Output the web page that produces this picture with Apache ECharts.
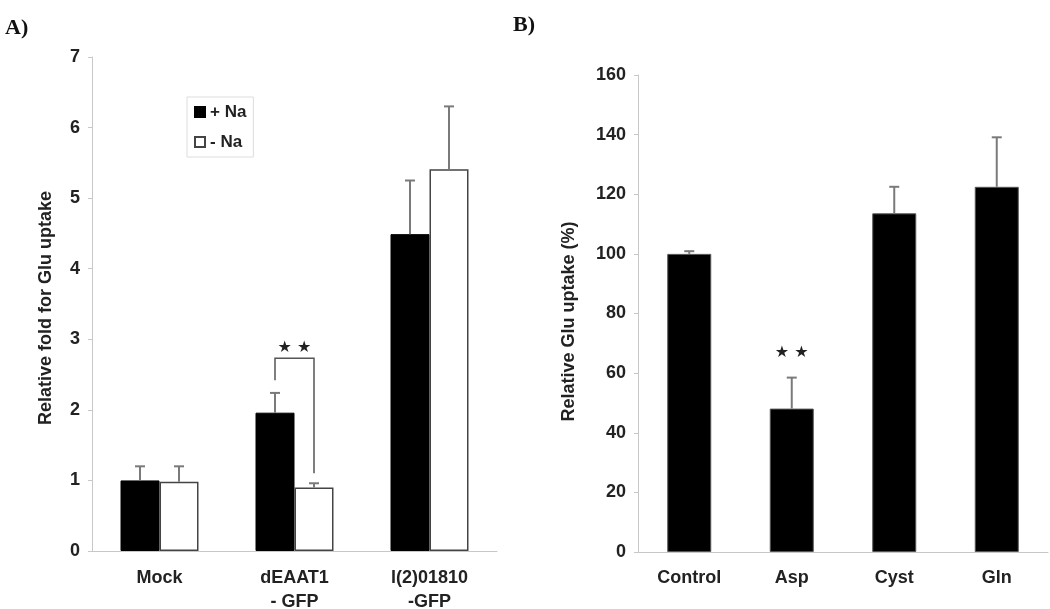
<!DOCTYPE html>
<html>
<head>
<meta charset="utf-8">
<script src="https://cdn.jsdelivr.net/npm/echarts@6/dist/echarts.min.js"></script>
<style>
  html, body { margin: 0; padding: 0; background: #fff; }
  #chart { width: 1050px; height: 609px; }
</style>
</head>
<body>
<div id="chart"></div>
<script>
// panel A: relative fold for Glu uptake
const groupCats = ['Mock', 'dEAAT1\n- GFP', 'l(2)01810\n-GFP']
const plusNa = [1.00, 1.96, 4.49]
const plusNaSd = [0.20, 0.28, 0.76]
const minusNa = [0.98, 0.90, 5.41]
const minusNaSd = [0.22, 0.06, 0.89]
const bracketA = [2.42, 2.73, 1.10] // left start, top, right end (on dEAAT1)
const starsA = 2.88

// panel B: relative Glu uptake (%)
const treatCats = ['Control', 'Asp', 'Cyst', 'Gln']
const uptake = [100, 48.1, 113.6, 122.5]
const uptakeSd = [0.9, 10.4, 8.9, 16.6]
const starsB = 66.8

const font = 'Liberation Sans'
const barWA = 39
const barWB = 44

function errBar(offset) {
  return function (params, api) {
    const i = api.value(0)
    const v = api.value(1)
    const e = api.value(2)
    const p0 = api.coord([i, v])
    const p1 = api.coord([i, v + e])
    const x = p0[0] + offset
    const st = { stroke: '#7a7a7a', lineWidth: 2 }
    return {
      type: 'group',
      children: [
        { type: 'line', shape: { x1: x, y1: p0[1], x2: x, y2: p1[1] }, style: st },
        { type: 'line', shape: { x1: x - 5, y1: p1[1], x2: x + 5, y2: p1[1] }, style: st }
      ]
    }
  }
}

function starText(params, api) {
  const p = api.coord([api.value(0), api.value(1)])
  return {
    type: 'text',
    x: p[0], y: p[1],
    style: { text: '★ ★', fontSize: 16, fontFamily: 'DejaVu Sans', fill: '#222', align: 'center', verticalAlign: 'middle' }
  }
}

function bracketRender(params, api) {
  const i = api.value(0)
  const a = api.coord([i, api.value(1)])
  const t = api.coord([i, api.value(2)])
  const b = api.coord([i, api.value(3)])
  const xl = a[0] - barWA / 2
  const xr = a[0] + barWA / 2
  return {
    type: 'polyline',
    shape: { points: [[xl, a[1]], [xl, t[1]], [xr, t[1]], [xr, b[1]]] },
    style: { stroke: '#555', lineWidth: 1.5, fill: null }
  }
}

const axisLabel = { color: '#222', fontSize: 18, fontWeight: 'bold', fontFamily: font, lineHeight: 24 }
const axisLine = { lineStyle: { color: '#c8c8c8', width: 1 } }
const axisTick = { length: 4, lineStyle: { color: '#c8c8c8' } }
const nameStyle = { color: '#222', fontSize: 18, fontWeight: 'bold', fontFamily: font }

const chart = echarts.init(document.getElementById('chart'))
chart.setOption({
  backgroundColor: '#fff',
  animation: false,
  title: [
    { text: 'A)', left: 0, top: 12, textStyle: { fontFamily: 'Liberation Serif', fontWeight: 'bold', fontSize: 22, color: '#111' } },
    { text: 'B)', left: 508, top: 9, textStyle: { fontFamily: 'Liberation Serif', fontWeight: 'bold', fontSize: 22, color: '#111' } }
  ],
  legend: {
    left: 187, top: 97,
    orient: 'vertical',
    padding: [5, 7, 5, 7],
    itemGap: 10,
    itemWidth: 10, itemHeight: 10,
    borderColor: '#ddd', borderWidth: 1,
    icon: 'rect',
    data: ['+ Na', '- Na'],
    textStyle: { color: '#222', fontSize: 17, fontWeight: 'bold', fontFamily: font, lineHeight: 20 }
  },
  grid: [
    { left: 92, top: 57, width: 405, height: 494, outerBoundsMode: 'none' },
    { left: 638, top: 75, width: 410, height: 477, outerBoundsMode: 'none' }
  ],
  xAxis: [
    {
      type: 'category', gridIndex: 0, data: groupCats,
      axisLine, axisTick,
      axisLabel: Object.assign({ margin: 15 }, axisLabel)
    },
    {
      type: 'category', gridIndex: 1, data: treatCats,
      axisLine, axisTick,
      axisLabel: Object.assign({ margin: 14 }, axisLabel)
    }
  ],
  yAxis: [
    {
      type: 'value', gridIndex: 0, min: 0, max: 7, interval: 1,
      splitLine: { show: false },
      axisLine: Object.assign({ show: true }, axisLine),
      axisTick: Object.assign({ show: true }, axisTick),
      axisLabel: Object.assign({ margin: 12 }, axisLabel),
      name: 'Relative fold for Glu uptake', nameLocation: 'middle', nameRotate: 90, nameGap: 37,
      nameTextStyle: Object.assign({ padding: [0, 8, 0, 0] }, nameStyle)
    },
    {
      type: 'value', gridIndex: 1, min: 0, max: 160, interval: 20,
      splitLine: { show: false },
      axisLine: Object.assign({ show: true }, axisLine),
      axisTick: Object.assign({ show: true }, axisTick),
      axisLabel: Object.assign({ margin: 12 }, axisLabel),
      name: 'Relative Glu uptake (%)', nameLocation: 'middle', nameRotate: 90, nameGap: 60,
      nameTextStyle: Object.assign({ padding: [0, 16, 0, 0] }, nameStyle)
    }
  ],
  series: [
    {
      name: '+ Na', type: 'bar', xAxisIndex: 0, yAxisIndex: 0,
      barWidth: barWA, barGap: '0%', data: plusNa,
      itemStyle: { color: '#000', borderColor: '#000', borderWidth: 1 }
    },
    {
      name: '- Na', type: 'bar', xAxisIndex: 0, yAxisIndex: 0,
      barWidth: barWA, barGap: '0%', data: minusNa,
      itemStyle: { color: '#fff', borderColor: '#444', borderWidth: 1.5 }
    },
    {
      type: 'custom', xAxisIndex: 0, yAxisIndex: 0, z: 5,
      renderItem: errBar(-barWA / 2),
      data: plusNa.map((v, i) => [i, v, plusNaSd[i]])
    },
    {
      type: 'custom', xAxisIndex: 0, yAxisIndex: 0, z: 5,
      renderItem: errBar(barWA / 2),
      data: minusNa.map((v, i) => [i, v, minusNaSd[i]])
    },
    {
      type: 'custom', xAxisIndex: 0, yAxisIndex: 0, z: 5,
      renderItem: bracketRender,
      data: [[1, bracketA[0], bracketA[1], bracketA[2]]]
    },
    {
      type: 'custom', xAxisIndex: 0, yAxisIndex: 0, z: 5,
      renderItem: starText,
      data: [[1, starsA]]
    },
    {
      name: 'uptake', type: 'bar', xAxisIndex: 1, yAxisIndex: 1,
      barWidth: barWB, data: uptake,
      itemStyle: { color: '#000', borderColor: '#555', borderWidth: 1 }
    },
    {
      type: 'custom', xAxisIndex: 1, yAxisIndex: 1, z: 5,
      renderItem: errBar(0),
      data: uptake.map((v, i) => [i, v, uptakeSd[i]])
    },
    {
      type: 'custom', xAxisIndex: 1, yAxisIndex: 1, z: 5,
      renderItem: starText,
      data: [[1, starsB]]
    }
  ]
})
</script>
</body>
</html>
